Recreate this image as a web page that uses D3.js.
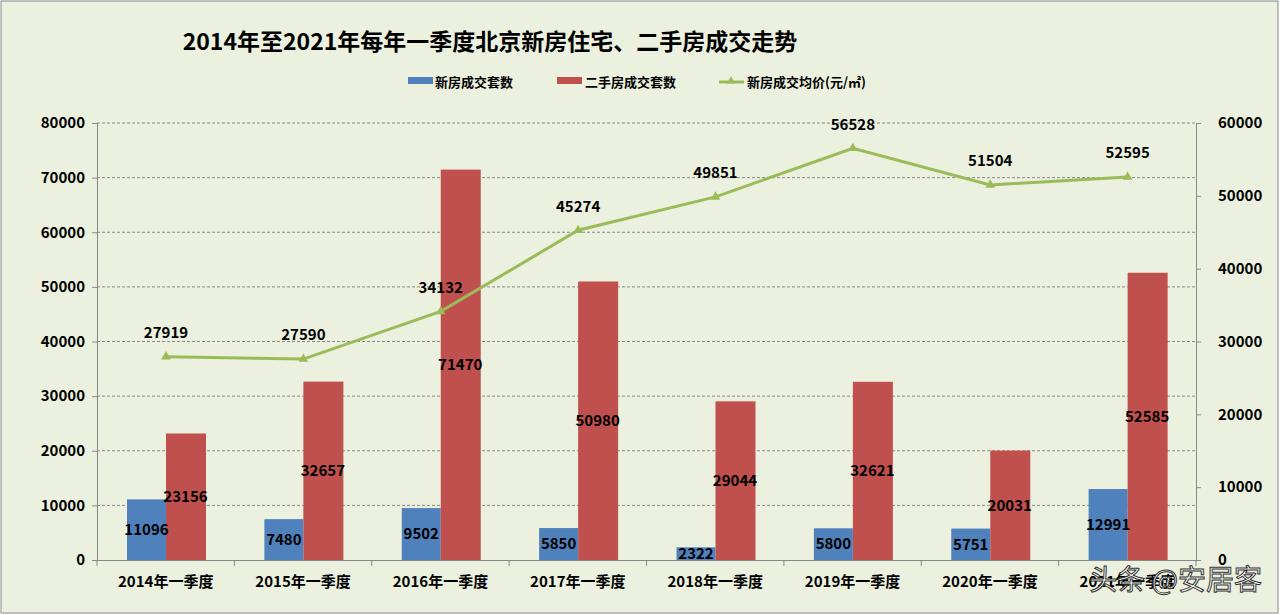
<!DOCTYPE html><html><head><meta charset="utf-8"><script src="https://cdn.jsdelivr.net/npm/d3@7"></script>
<style>body{margin:0;background:#fff}text{font-family:"Noto Sans CJK SC",sans-serif}</style></head><body><svg id="c" width="1280" height="615"></svg><script>
const categories=["2014年一季度","2015年一季度","2016年一季度","2017年一季度","2018年一季度","2019年一季度","2020年一季度","2021年一季度"];
const newHomes=[11096,7480,9502,5850,2322,5800,5751,12991];
const resale=[23156,32657,71470,50980,29044,32621,20031,52585];
const price=[27919,27590,34132,45274,49851,56528,51504,52595];
const leftTicks=[0,10000,20000,30000,40000,50000,60000,70000,80000];
const rightTicks=[0,10000,20000,30000,40000,50000,60000];
const svg=d3.select("#c");
svg.append("rect").attr("x",1).attr("y",1).attr("width",1277).attr("height",612).attr("fill","#ebf1de").attr("stroke","#888");
const L=97,R=1196,T=123,B=560;
const x=d3.scaleBand().domain(categories).range([L,R]);
const y=d3.scaleLinear().domain([0,80000]).range([B,T]);
const y2=d3.scaleLinear().domain([0,60000]).range([B,T]);
svg.append("text").attr("x",490).attr("y",50).attr("text-anchor","middle").attr("font-size",23).attr("font-weight","bold").text("2014年至2021年每年一季度北京新房住宅、二手房成交走势");
svg.append("g").selectAll("line").data(leftTicks.slice(1)).join("line").attr("x1",L).attr("x2",R).attr("y1",d=>y(d)).attr("y2",d=>y(d)).attr("stroke","#888").attr("stroke-dasharray","3,2");
const ax=svg.append("g").attr("transform",`translate(${L},0)`).call(d3.axisLeft(y).tickValues(leftTicks).tickSize(5).tickFormat(d=>d));
const ax2=svg.append("g").attr("transform",`translate(${R},0)`).call(d3.axisRight(y2).tickValues(rightTicks).tickSize(5).tickFormat(d=>d));
const axb=svg.append("g").attr("transform",`translate(0,${B})`).call(d3.axisBottom(x).tickSize(0).tickPadding(16));
svg.append("g").selectAll("line").data(d3.range(categories.length+1)).join("line").attr("x1",i=>L+i*x.step()).attr("x2",i=>L+i*x.step()).attr("y1",B).attr("y2",B+6).attr("stroke","#888");
[ax,ax2,axb].forEach(g=>{g.selectAll("path,line").attr("stroke","#888");g.selectAll("text").attr("font-size",15).attr("font-weight","bold").attr("fill","#000");});
ax.selectAll("text").attr("dx",-4);ax2.selectAll("text").attr("dx",14);
const bw=39,off=30;
const g=svg.append("g");
g.selectAll(".b").data(newHomes).join("rect").attr("x",(d,i)=>x(categories[i])+off).attr("width",bw).attr("y",d=>y(d)).attr("height",d=>B-y(d)).attr("fill","#4f81bd");
g.selectAll(".r").data(resale).join("rect").attr("x",(d,i)=>x(categories[i])+off+bw).attr("width",bw+1).attr("y",d=>y(d)).attr("height",d=>B-y(d)).attr("fill","#c0504d");
const lbl=(data,dx,yf)=>g.append("g").selectAll("text").data(data).join("text").attr("x",(d,i)=>x(categories[i])+dx).attr("y",yf).attr("text-anchor","middle").attr("font-size",15).attr("font-weight","bold").attr("dy","0.35em").text(d=>d);
lbl(newHomes,off+bw/2,d=>(y(d)+B)/2);
lbl(resale,off+bw*1.5,d=>(y(d)+B)/2);
const px=(d,i)=>x(categories[i])+off+bw;
svg.append("path").datum(price).attr("fill","none").attr("stroke","#9bbb59").attr("stroke-width",3).attr("d",d3.line().x(px).y(d=>y2(d)));
svg.append("g").selectAll("path").data(price).join("path").attr("transform",(d,i)=>`translate(${px(d,i)},${y2(d)})`).attr("d",d3.symbol(d3.symbolTriangle,40)).attr("fill","#9bbb59");
lbl(price,off+bw,d=>y2(d)-24);
const lg=svg.append("g").attr("font-size",13).attr("font-weight","bold");
lg.append("rect").attr("x",408).attr("y",77).attr("width",25).attr("height",7).attr("fill","#4f81bd");
lg.append("text").attr("x",435).attr("y",87).text("新房成交套数");
lg.append("rect").attr("x",557).attr("y",77).attr("width",25).attr("height",7).attr("fill","#c0504d");
lg.append("text").attr("x",585).attr("y",87).text("二手房成交套数");
lg.append("line").attr("x1",719).attr("x2",744).attr("y1",82).attr("y2",82).attr("stroke","#9bbb59").attr("stroke-width",3);
lg.append("path").attr("transform","translate(731,81)").attr("d",d3.symbol(d3.symbolTriangle,30)).attr("fill","#9bbb59");
lg.append("text").attr("x",747).attr("y",87).text("新房成交均价(元/㎡)");
svg.append("text").attr("x",1262).attr("y",590).attr("text-anchor","end").attr("font-size",28).attr("fill","#fff").attr("stroke","#333").attr("stroke-width",1).text("头条 @安居客");
</script></body></html>
